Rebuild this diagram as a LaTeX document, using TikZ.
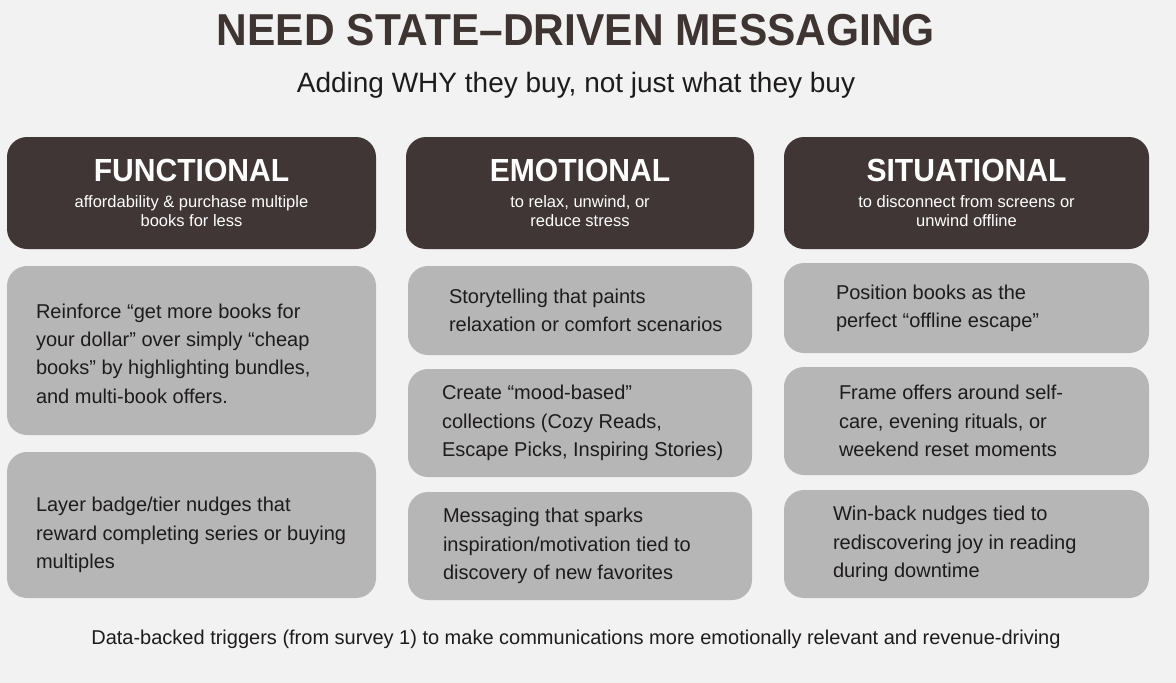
\documentclass[tikz,border=0pt]{standalone}
\usepackage{fontspec}
\setmainfont{Liberation Sans}
\newfontfamily\bigfont{Liberation Sans}[FakeStretch=0.95]
\newfontfamily\capfont{Liberation Sans}[FakeStretch=0.94]
\definecolor{bgcol}{HTML}{F2F2F2}
\definecolor{darkcol}{HTML}{403635}
\definecolor{greycol}{HTML}{B6B6B6}
\definecolor{inkcol}{HTML}{1E1B1B}
\definecolor{titlecol}{HTML}{3E3432}
\begin{document}
\begin{tikzpicture}[x=1pt,y=-1pt,
  headbox/.style={fill=darkcol,rounded corners=20pt,minimum height=112pt,inner sep=0pt,align=center,text=white,font=\fontsize{16.5}{19.5}\selectfont},
  notebox/.style={fill=greycol,rounded corners=20pt,inner sep=0pt},
  bodytext/.style={anchor=west,inner sep=0pt,align=left,text=inkcol,font=\fontsize{20}{28.3}\selectfont}]
\useasboundingbox (0,0) rectangle (1176,683);
\fill[bgcol] (0,0) rectangle (1176,683);
\node[anchor=base,inner sep=0pt,text=titlecol,font=\bigfont\bfseries\fontsize{44.7}{44.7}\selectfont] (title) at (576,45) {NEED STATE–DRIVEN MESSAGING};
\node[anchor=base,inner sep=0pt,text=inkcol,font=\fontsize{28}{28}\selectfont] (subtitle) at (576,92) {Adding WHY they buy, not just what they buy};
\node[headbox,minimum width=369pt] (fun) at (191.5,193) {{\capfont\bfseries\fontsize{32}{32}\selectfont FUNCTIONAL}\\[6.5pt]affordability \& purchase multiple\\books for less};
\node[headbox,minimum width=348pt] (emo) at (580,193) {{\capfont\bfseries\fontsize{32}{32}\selectfont EMOTIONAL}\\[6.5pt]to relax, unwind, or\\reduce stress};
\node[headbox,minimum width=365pt] (sit) at (966.5,193) {{\capfont\bfseries\fontsize{32}{32}\selectfont SITUATIONAL}\\[6.5pt]to disconnect from screens or\\unwind offline};
\node[notebox,minimum width=369pt,minimum height=169pt] (fun1) at (191.5,350.5) {};
\node[notebox,minimum width=369pt,minimum height=146pt] (fun2) at (191.5,525) {};
\node[notebox,minimum width=344pt,minimum height=89pt] (emo1) at (580,310.5) {};
\node[notebox,minimum width=344pt,minimum height=108pt] (emo2) at (580,423) {};
\node[notebox,minimum width=344pt,minimum height=108pt] (emo3) at (580,546) {};
\node[notebox,minimum width=365pt,minimum height=90pt] (sit1) at (966.5,308) {};
\node[notebox,minimum width=365pt,minimum height=108pt] (sit2) at (966.5,421) {};
\node[notebox,minimum width=365pt,minimum height=108pt] (sit3) at (966.5,544) {};
\node[bodytext] (fun1t) at ([xshift=29pt,yshift=-3pt]fun1.west) {Reinforce “get more books for\\your dollar” over simply “cheap\\books” by highlighting bundles,\\and multi-book offers.};
\node[bodytext] (fun2t) at ([xshift=29pt,yshift=-10pt]fun2.west) {Layer badge/tier nudges that\\reward completing series or buying\\multiples};
\node[bodytext] (emo1t) at ([xshift=41pt]emo1.west) {Storytelling that paints\\relaxation or comfort scenarios};
\node[bodytext] (emo2t) at ([xshift=34pt]emo2.west) {Create “mood-based”\\collections (Cozy Reads,\\Escape Picks, Inspiring Stories)};
\node[bodytext] (emo3t) at ([xshift=35pt]emo3.west) {Messaging that sparks\\inspiration/motivation tied to\\discovery of new favorites};
\node[bodytext] (sit1t) at ([xshift=52pt]sit1.west) {Position books as the\\perfect “offline escape”};
\node[bodytext] (sit2t) at ([xshift=55pt]sit2.west) {Frame offers around self-\\care, evening rituals, or\\weekend reset moments};
\node[bodytext] (sit3t) at ([xshift=49pt]sit3.west) {Win-back nudges tied to\\rediscovering joy in reading\\during downtime};
\node[anchor=base,inner sep=0pt,text=inkcol,font=\fontsize{20}{20}\selectfont] (footer) at (576,644) {Data-backed triggers (from survey 1) to make communications more emotionally relevant and revenue-driving};
\end{tikzpicture}
\end{document}
